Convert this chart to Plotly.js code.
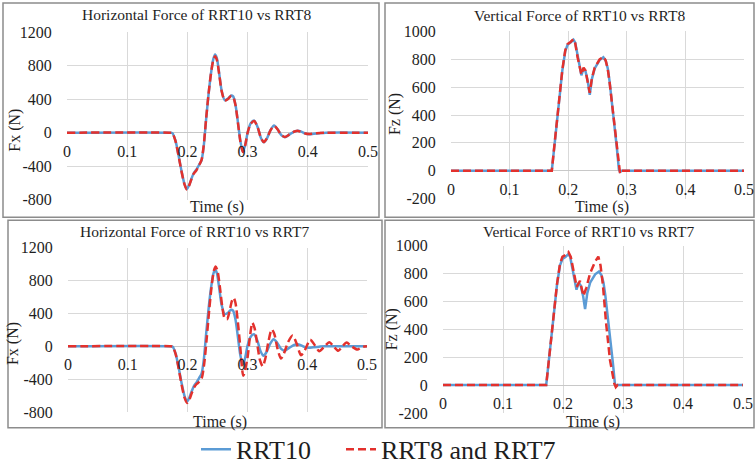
<!DOCTYPE html>
<html>
<head>
<meta charset="utf-8">
<script src="https://cdn.plot.ly/plotly-3.0.1.min.js"></script>
<style>html,body{margin:0;padding:0;background:#fff;}#chart{width:756px;height:473px;}</style>
</head>
<body>
<div id="chart"></div>
<script>
// ---------------- DATA ----------------
// Horizontal force, RRT10 (blue, used in both horizontal panels)
var hTimeRRT10 = [0, 0.170, 0.175, 0.180, 0.185, 0.190, 0.195, 0.199, 0.203, 0.207, 0.2105, 0.215, 0.219, 0.2235, 0.227, 0.231, 0.235, 0.239, 0.243, 0.246, 0.249, 0.253, 0.257, 0.262, 0.267, 0.2725, 0.276, 0.280, 0.284, 0.288, 0.292, 0.296, 0.300, 0.305, 0.311, 0.317, 0.322, 0.327, 0.332, 0.338, 0.344, 0.350, 0.356, 0.362, 0.370, 0.378, 0.384, 0.390, 0.396, 0.402, 0.410, 0.420, 0.430, 0.500];
var hForceRRT10 = [0, 0, -5, -90, -260, -450, -610, -675, -625, -545, -485, -440, -390, -330, -170, 150, 450, 700, 880, 935, 890, 700, 500, 390, 405, 445, 435, 330, 120, -100, -225, -150, 0, 110, 145, 60, -60, -115, -70, 30, 85, 40, -30, -55, -20, 15, 25, 10, -10, -18, -12, -5, 0, 0];
// Horizontal force, RRT8 (red dashed, top-left)
var hTimeRRT8 = [0, 0.170, 0.175, 0.180, 0.185, 0.190, 0.195, 0.199, 0.203, 0.207, 0.2105, 0.215, 0.219, 0.2235, 0.227, 0.231, 0.235, 0.239, 0.243, 0.246, 0.249, 0.253, 0.257, 0.262, 0.267, 0.2725, 0.276, 0.280, 0.284, 0.288, 0.292, 0.296, 0.300, 0.305, 0.311, 0.317, 0.322, 0.327, 0.332, 0.338, 0.344, 0.350, 0.356, 0.362, 0.370, 0.378, 0.384, 0.390, 0.396, 0.402, 0.410, 0.420, 0.430, 0.500];
var hForceRRT8 = [0, 0, -5, -95, -265, -455, -615, -680, -630, -550, -490, -450, -395, -325, -160, 160, 455, 700, 870, 915, 870, 690, 495, 385, 400, 440, 430, 325, 115, -105, -230, -150, 0, 105, 140, 58, -58, -112, -68, 28, 82, 38, -28, -52, -18, 14, 22, 8, -10, -16, -10, -4, 0, 0];
// Horizontal force, RRT7 (red dashed, bottom-left)
var hTimeRRT7 = [0, 0.170, 0.175, 0.180, 0.185, 0.190, 0.195, 0.199, 0.203, 0.207, 0.211, 0.215, 0.220, 0.224, 0.228, 0.232, 0.236, 0.240, 0.244, 0.247, 0.250, 0.254, 0.258, 0.262, 0.266, 0.270, 0.274, 0.277, 0.280, 0.284, 0.288, 0.2931, 0.300, 0.304, 0.3083, 0.312, 0.317, 0.321, 0.3256, 0.330, 0.335, 0.3406, 0.345, 0.350, 0.356, 0.361, 0.368, 0.3757, 0.382, 0.3896, 0.396, 0.405, 0.413, 0.420, 0.428, 0.437, 0.444, 0.452, 0.459, 0.466, 0.474, 0.484, 0.492, 0.500];
var hForceRRT7 = [0, 0, -5, -95, -270, -470, -630, -690, -650, -570, -500, -460, -430, -380, -200, 100, 430, 720, 920, 970, 920, 720, 480, 340, 330, 420, 550, 590, 530, 300, 0, -360, -150, 100, 285, 220, 0, -170, -245, -150, 50, 205, 150, -20, -150, -90, 50, 130, 40, -110, -50, 80, 10, -60, -10, 50, 0, -55, 0, 45, 0, -40, -10, 0];

// Vertical force, RRT10 (blue, used in both vertical panels)
var vTimeRRT10 = [0, 0.172, 0.178, 0.184, 0.190, 0.195, 0.199, 0.204, 0.209, 0.212, 0.216, 0.2225, 0.2262, 0.2295, 0.2335, 0.2368, 0.2405, 0.2452, 0.2536, 0.2600, 0.2640, 0.2675, 0.2705, 0.2750, 0.2790, 0.2830, 0.2865, 0.2885, 0.2910, 0.500];
var vForceRRT10 = [0, 0, 240, 485, 720, 860, 905, 920, 940, 920, 820, 685, 735, 715, 640, 545, 660, 735, 795, 815, 790, 735, 645, 480, 320, 165, 10, -8, 0, 0];
// Vertical force, RRT8 (red dashed, top-right)
var vTimeRRT8 = [0, 0.172, 0.178, 0.184, 0.190, 0.195, 0.199, 0.204, 0.209, 0.212, 0.216, 0.2225, 0.2262, 0.2295, 0.2335, 0.2368, 0.2405, 0.2452, 0.2536, 0.2600, 0.2640, 0.2675, 0.2705, 0.2750, 0.2790, 0.2830, 0.2865, 0.2885, 0.2910, 0.500];
var vForceRRT8 = [0, 0, 245, 490, 725, 865, 910, 925, 945, 915, 815, 690, 740, 720, 630, 560, 665, 740, 800, 818, 792, 730, 640, 470, 315, 160, 12, -20, 0, 0];
// Vertical force, RRT7 (red dashed, bottom-right)
var vTimeRRT7 = [0, 0.172, 0.178, 0.184, 0.190, 0.195, 0.199, 0.204, 0.209, 0.213, 0.218, 0.2228, 0.2283, 0.234, 0.239, 0.245, 0.2533, 0.2589, 0.2625, 0.2665, 0.2717, 0.2783, 0.2855, 0.288, 0.291, 0.500];
var vForceRRT7 = [0, 0, 240, 490, 725, 870, 920, 935, 955, 920, 810, 705, 748, 640, 700, 800, 885, 922, 860, 720, 450, 180, 10, -15, 0, 0];

// Tick labels
var xTickVals = [0, 0.1, 0.2, 0.3, 0.4, 0.5];
var xTickText = ["0", "0.1", "0.2", "0.3", "0.4", "0.5"];
var hTickVals = [-800, -400, 0, 400, 800, 1200];
var hTickText = ["-800", "-400", "0", "400", "800", "1200"];
var vTickVals = [-200, 0, 200, 400, 600, 800, 1000];
var vTickText = ["-200", "0", "200", "400", "600", "800", "1000"];

var panelTitles = ["Horizontal Force of RRT10 vs RRT8", "Vertical Force of RRT10 vs RRT8",
                   "Horizontal Force of RRT10 vs RRT7", "Vertical Force of RRT10 vs RRT7"];
var xTitle = "Time (s)";
var yTitles = ["Fx (N)", "Fz (N)", "Fx (N)", "Fz (N)"];
var seriesNames = ["RRT10", "RRT8 and RRT7"];

// ---------------- STYLE / LAYOUT ----------------
var W = 756, H = 473;
function px(x) { return x / W; }
function py(y) { return 1 - y / H; }
var FONT = '"Liberation Serif", "Times New Roman", Times, serif';
var TXT = "#1e1e1e";
var BLUE = "#5B9BD5", RED = "#E3312D";

function blueLine(x, y, xa, ya, show) {
  return {x: x, y: y, xaxis: xa, yaxis: ya, type: "scatter", mode: "lines", name: seriesNames[0],
          showlegend: show, legend: "legend",
          line: {color: BLUE, width: 2.5, shape: "spline", smoothing: 0.7}};
}
function redLine(x, y, xa, ya, show) {
  return {x: x, y: y, xaxis: xa, yaxis: ya, type: "scatter", mode: "lines", name: seriesNames[1],
          showlegend: show, legend: "legend2",
          line: {color: RED, width: 2.5, dash: "8px,4px", shape: "spline", smoothing: 0.7}};
}
function vLine(tr) { tr.line.shape = "linear"; delete tr.line.smoothing; return tr; }

var traces = [
  blueLine(hTimeRRT10, hForceRRT10, "x", "y", true),
  redLine(hTimeRRT8, hForceRRT8, "x", "y", true),
  vLine(blueLine(vTimeRRT10, vForceRRT10, "x2", "y2", false)),
  vLine(redLine(vTimeRRT8, vForceRRT8, "x2", "y2", false)),
  blueLine(hTimeRRT10, hForceRRT10, "x3", "y3", false),
  redLine(hTimeRRT7, hForceRRT7, "x3", "y3", false),
  vLine(blueLine(vTimeRRT10, vForceRRT10, "x4", "y4", false)),
  vLine(redLine(vTimeRRT7, vForceRRT7, "x4", "y4", false))
];

var panels = [
  {xd: [67, 368], yd: [33, 203], zero: 135, yr: [-800, 1200], tv: hTickVals, tt: hTickText,
   title: [197, 15], xt: [217, 211], yt: [15, 133], box: [3, 3, 379, 221]},
  {xd: [451, 744], yd: [32, 202], zero: 173.7, yr: [-200, 1000], tv: vTickVals, tt: vTickText,
   title: [579, 16], xt: [602, 211], yt: [395, 116], box: [385, 3, 754, 221]},
  {xd: [68, 367], yd: [252, 419], zero: 352.2, yr: [-800, 1200], tv: hTickVals, tt: hTickText,
   title: [195, 235], xt: [220, 429], yt: [13, 350], box: [8, 224, 382, 435]},
  {xd: [443, 743], yd: [250, 420], zero: 391.7, yr: [-200, 1000], tv: vTickVals, tt: vTickText,
   title: [588, 235], xt: [593, 429], yt: [392, 335], box: [385, 224, 754, 435]}
];

var legendCommon = {orientation: "h", yanchor: "middle", y: py(457),
  font: {family: FONT, size: 26, color: TXT}, bgcolor: "rgba(0,0,0,0)", borderwidth: 0};

var layout = {
  width: W, height: H,
  margin: {l: 0, r: 0, t: 0, b: 0},
  paper_bgcolor: "#ffffff", plot_bgcolor: "#ffffff",
  font: {family: FONT, color: TXT, size: 15},
  showlegend: true,
  legend: Object.assign({}, legendCommon, {x: px(196), xanchor: "left"}),
  legend2: Object.assign({}, legendCommon, {x: px(341), xanchor: "left"}),
  annotations: [],
  shapes: []
};

panels.forEach(function (p, i) {
  var s = i === 0 ? "" : String(i + 1);
  layout["xaxis" + s] = {
    domain: [px(p.xd[0]), px(p.xd[1])], range: [0, 0.5],
    anchor: "free", position: py(p.zero),
    tickmode: "array", tickvals: xTickVals, ticktext: xTickText,
    showgrid: true, gridcolor: "#d9d9d9", gridwidth: 1, zeroline: false, showline: false,
    ticks: "outside", ticklen: 4, tickcolor: "rgba(0,0,0,0)", ticklabeloverflow: "allow",
    tickfont: {family: FONT, size: 16, color: TXT}, fixedrange: true
  };
  layout["yaxis" + s] = {
    domain: [py(p.yd[1]), py(p.yd[0])], range: p.yr, anchor: "x" + s,
    tickmode: "array", tickvals: p.tv, ticktext: p.tt,
    showgrid: true, gridcolor: "#d9d9d9", gridwidth: 1,
    zeroline: true, zerolinecolor: "#c8c8c8", zerolinewidth: 1, showline: false,
    ticks: "outside", ticklen: 11, tickcolor: "rgba(0,0,0,0)", ticklabeloverflow: "allow",
    tickfont: {family: FONT, size: 16, color: TXT}, fixedrange: true
  };
  layout.annotations.push({text: panelTitles[i], xref: "paper", yref: "paper",
    x: px(p.title[0]), y: py(p.title[1]), xanchor: "center", yanchor: "middle",
    showarrow: false, font: {family: FONT, size: 15.5, color: TXT}});
  layout.annotations.push({text: xTitle, xref: "paper", yref: "paper",
    x: px(p.xt[0]), y: py(p.xt[1]), xanchor: "center", yanchor: "middle",
    showarrow: false, font: {family: FONT, size: 16, color: TXT}});
  layout.annotations.push({text: yTitles[i], xref: "paper", yref: "paper", textangle: -90,
    x: px(p.yt[0]), y: py(p.yt[1]), xanchor: "center", yanchor: "middle",
    showarrow: false, font: {family: FONT, size: 16, color: TXT}});
  layout.shapes.push({type: "rect", xref: "paper", yref: "paper",
    x0: px(p.box[0]), y0: py(p.box[1]), x1: px(p.box[2]), y1: py(p.box[3]),
    line: {color: "#8c8c8c", width: 1.5}, fillcolor: "rgba(0,0,0,0)", layer: "below"});
});

Plotly.newPlot("chart", traces, layout, {staticPlot: true, displayModeBar: false});
</script>
</body>
</html>
